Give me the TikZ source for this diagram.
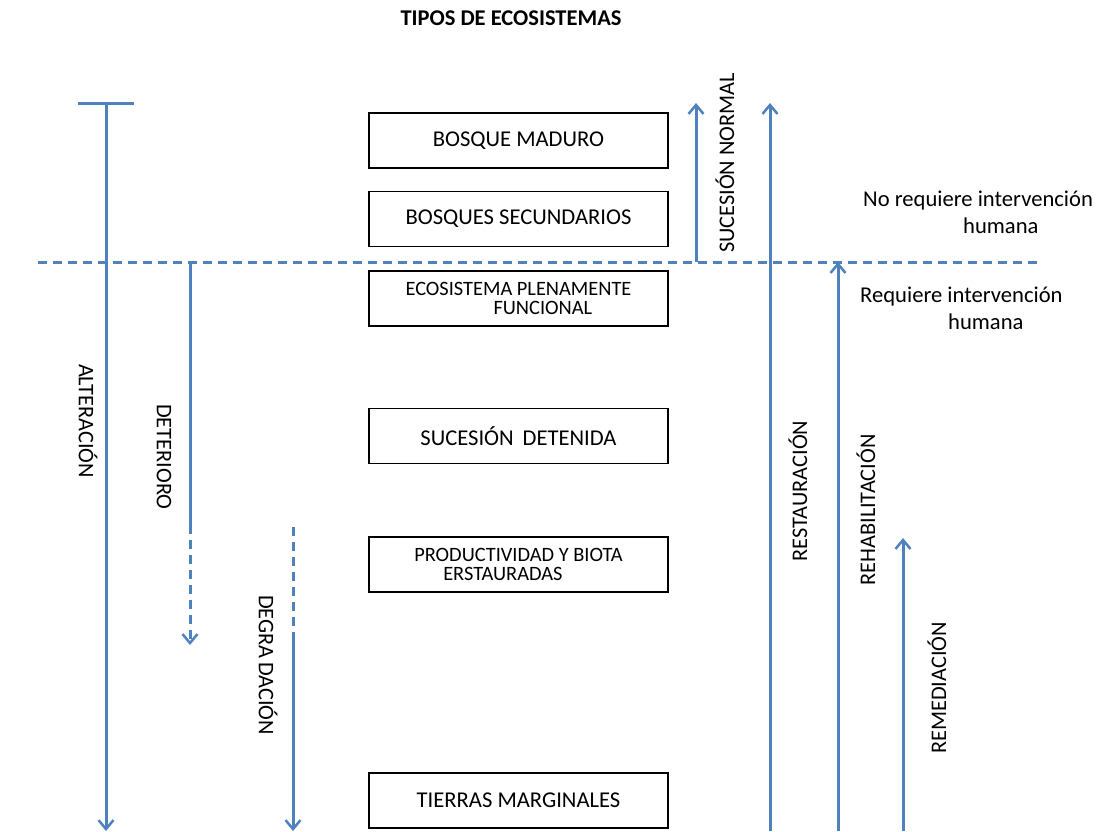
\documentclass[tikz,border=0pt]{standalone}
\usepackage{fontspec}
\setmainfont{Carlito}
\usetikzlibrary{arrows.meta}
\definecolor{lineblue}{HTML}{4F81BD}
\begin{document}
\begin{tikzpicture}[x=1pt,y=-1pt,
  box/.style={draw=black, line width=1.6pt, minimum width=299pt, minimum height=55pt, inner sep=0pt, font=\fontsize{22.6}{24}\selectfont},
  smallbox/.style={box, align=left, font=\fontsize{20.4}{19.5}\selectfont},
  blueline/.style={draw=lineblue, line width=3pt},
  flow/.style={blueline, -{Straight Barb[length=9pt,width=15pt,line width=2.5pt]}},
  bluedash/.style={blueline, dash pattern=on 9pt off 6pt},
  lbl/.style={font=\fontsize{22.3}{24}\selectfont, inner sep=0pt},
  vlbl/.style={lbl, rotate=-90},
  ulbl/.style={lbl, rotate=90},
  side/.style={lbl, anchor=base west, font=\fontsize{22.6}{24}\selectfont}
]
\useasboundingbox (0,0) rectangle (1101,831);

% title
\node[font=\bfseries\fontsize{22.5}{24}\selectfont] (title) at (511,18) {TIPOS DE ECOSISTEMAS};

% boxes
\node[box] (bm) at (518.5,140.5) {BOSQUE MADURO};
\node[box] (bs) at (518.5,219) {BOSQUES SECUNDARIOS};
\node[smallbox] (epf) at (518.5,298.5) {ECOSISTEMA PLENAMENTE\\\hspace*{88pt}FUNCIONAL};
\node[box] (sd) at (518.5,436) {SUCESIÓN \,DETENIDA};
\node[smallbox] (pbr) at (518.5,564.5) {PRODUCTIVIDAD Y BIOTA\\\hspace*{29pt}ERSTAURADAS};
\node[box] (tm) at (518.5,800.5) {TIERRAS MARGINALES};

% horizontal dashed divider
\coordinate (dashL) at (38,262);
\coordinate (dashR) at (1040,262);
\draw[bluedash] (dashL) -- (dashR);

% ALTERACION
\coordinate (altBarL) at (78,103);
\coordinate (altBarR) at (134,103);
\coordinate (altTop) at (106,103);
\coordinate (altBot) at (106,831);
\draw[blueline] (altBarL) -- (altBarR);
\draw[flow] (altTop) -- (altBot);
\node[vlbl] (altl) at (88,421) {ALTERACIÓN};

% DETERIORO
\coordinate (detA) at (190,262);
\coordinate (detB) at (190,525);
\coordinate (detC) at (190,645);
\draw[blueline] (detA) -- (detB);
\draw[bluedash, -{Straight Barb[length=9pt,width=15pt,line width=2.5pt]}] (detB) -- (detC);
\node[vlbl] (detl) at (164,457) {DETERIORO};

% DEGRADACION
\coordinate (degA) at (293,527);
\coordinate (degB) at (293,637);
\coordinate (degC) at (293,831);
\draw[bluedash] (degA) -- (degB);
\draw[flow] (degB) -- (degC);
\node[vlbl] (degl) at (268,665) {DEGRA\,DACIÓN};

% SUCESION NORMAL
\coordinate (snA) at (696,262);
\coordinate (snB) at (696,103);
\draw[flow] (snA) -- (snB);
\node[ulbl] (snl) at (725,163) {SUCESIÓN NORMAL};

% RESTAURACION
\coordinate (resA) at (770,831);
\coordinate (resB) at (770,103);
\draw[flow] (resA) -- (resB);
\node[ulbl] (resl) at (798,491) {RESTAURACIÓN};

% REHABILITACION
\coordinate (rehA) at (838,831);
\coordinate (rehB) at (838,262);
\draw[flow] (rehA) -- (rehB);
\node[ulbl] (rehl) at (866,510) {REHABILITACIÓN};

% REMEDIACION
\coordinate (remA) at (903,831);
\coordinate (remB) at (903,538);
\draw[flow] (remA) -- (remB);
\node[ulbl] (reml) at (937,688) {REMEDIACIÓN};

% side notes
\node[side] (no1) at (863,206) {No requiere intervención};
\node[side] (no2) at (963,233) {humana};
\node[side] (re1) at (860,302) {Requiere intervención};
\node[side] (re2) at (948,329) {humana};
\end{tikzpicture}
\end{document}
